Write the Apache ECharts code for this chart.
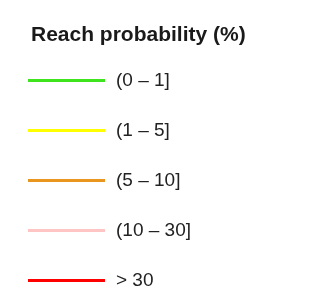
<!DOCTYPE html>
<html>
<head>
<meta charset="utf-8">
<script src="https://cdn.jsdelivr.net/npm/echarts@6/dist/echarts.min.js"></script>
<style>
  html, body { margin: 0; padding: 0; background: #fff; }
  #myChart { width: 336px; height: 302px; }
</style>
</head>
<body>
<div id="myChart"></div>
<script>
  // legend classes and their line colours
  var classNames = ['(0 – 1]', '(1 – 5]', '(5 – 10]', '(10 – 30]', '> 30'];
  var classColors = ['#3ee41e', '#ffff00', '#e8961e', '#ffc4c4', '#ff0000'];

  var myChart = echarts.init(document.getElementById('myChart'));

  var series = [];
  for (var i = 0; i < classNames.length; i++) {
    series.push({
      name: classNames[i],
      type: 'line',
      data: [],
      itemStyle: {color: classColors[i]},
      lineStyle: {color: classColors[i], width: 3}
    });
  }

  myChart.setOption({
    animation: false,
    title: {
      text: 'Reach probability (%)',
      left: 26,
      top: 20,
      textStyle: {
        fontFamily: 'Liberation Sans',
        fontSize: 21,
        fontWeight: 'bold',
        color: '#1a1a1a'
      }
    },
    legend: {
      orient: 'vertical',
      left: 23,
      top: 66,
      icon: 'rect',
      itemWidth: 77,
      itemHeight: 3,
      itemGap: 31,
      data: classNames,
      textStyle: {
        fontFamily: 'Liberation Sans',
        fontSize: 19,
        color: '#222',
        padding: [0, 0, 0, 6]
      }
    },
    xAxis: {show: false, type: 'value'},
    yAxis: {show: false, type: 'value'},
    grid: {show: false},
    series: series
  });
</script>
</body>
</html>
